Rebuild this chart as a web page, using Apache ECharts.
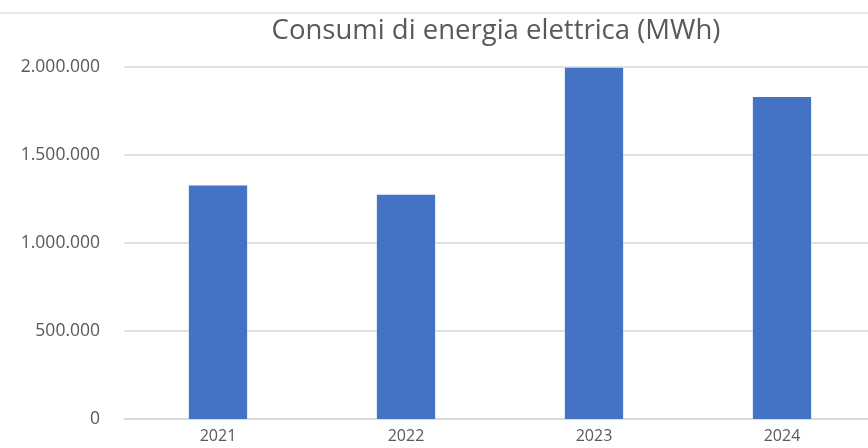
<!DOCTYPE html>
<html><head><meta charset="utf-8">
<script src="https://cdn.jsdelivr.net/npm/echarts@6/dist/echarts.min.js"></script>
<style>html,body{margin:0;padding:0;background:#fff}#c{width:868px;height:448px}</style>
</head><body><div id="c"></div>
<script>
const categories = ['2021', '2022', '2023', '2024'];
const consumi = [1327000, 1274000, 1996000, 1829000];
const yTicks = { min: 0, max: 2000000, interval: 500000 };
const titleText = 'Consumi di energia elettrica (MWh)';

function fmt(v) { return String(v).replace(/\B(?=(\d{3})+(?!\d))/g, '.'); }

const chart = echarts.init(document.getElementById('c'));
chart.setOption({
  animation: false,
  backgroundColor: '#ffffff',
  title: {
    text: titleText, left: 491, top: 12, textAlign: 'center',
    textStyle: { fontFamily: 'Open Sans', fontWeight: 'normal', fontSize: 27.5, color: '#595959' }
  },
  graphic: [{ type: 'line', shape: { x1: 0, y1: 13, x2: 868, y2: 13 }, style: { stroke: '#e8e8e8', lineWidth: 2 } }],
  grid: { left: 124, width: 752, top: 67, bottom: 29, outerBoundsMode: 'none', containLabel: false },
  xAxis: {
    type: 'category', data: categories,
    axisTick: { show: false },
    axisLine: { lineStyle: { color: '#d9d9d9', width: 1.5 } },
    axisLabel: { color: '#595959', fontFamily: 'Open Sans', fontSize: 16, margin: 9 }
  },
  yAxis: {
    type: 'value', min: yTicks.min, max: yTicks.max, interval: yTicks.interval,
    axisLine: { show: false }, axisTick: { show: false },
    splitLine: { lineStyle: { color: '#d9d9d9', width: 1.5 } },
    axisLabel: { color: '#595959', fontFamily: 'Open Sans', fontSize: 17.5, margin: 24, formatter: fmt }
  },
  series: [{
    type: 'bar', data: consumi, barWidth: '31%',
    itemStyle: { color: '#4472c4' }
  }]
});
</script></body></html>
